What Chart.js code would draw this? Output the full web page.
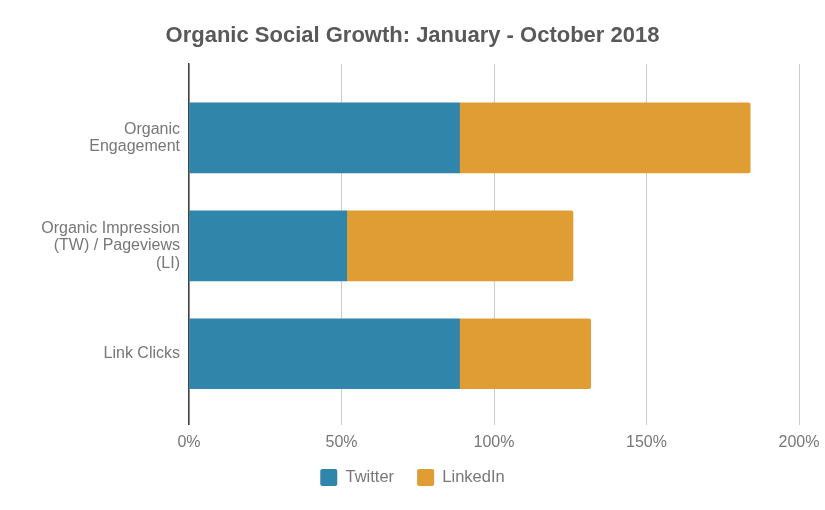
<!DOCTYPE html>
<html>
<head>
<meta charset="utf-8">
<script src="https://cdn.jsdelivr.net/npm/chart.js@4/dist/chart.umd.min.js"></script>
<style>
  body { margin: 0; background: #fff; }
  #wrap { width: 825px; height: 510px; }
</style>
</head>
<body>
<div id="wrap"><canvas id="chart" width="825" height="510"></canvas></div>
<script>
const categories = [['Organic', 'Engagement'], ['Organic Impression', '(TW) / Pageviews', '(LI)'], 'Link Clicks']
const twitter = [88.7, 51.7, 88.7]
const linkedin = [95.3, 74.2, 43.0]
const xTicks = [0, 50, 100, 150, 200]

const font = 'Arial, "Liberation Sans", sans-serif'

// legend: wide gaps between items but a short box
const legendSpacing = {
    id: 'legendSpacing',
    afterInit(c) {
        const fit = c.legend.fit
        const draw = c.legend.draw
        c.legend.fit = function () { fit.call(this); this.height -= 28 }
        c.legend.draw = function () {
            const top = this.top, bottom = this.bottom
            this.top -= 14
            this.bottom += 14
            draw.call(this)
            this.top = top
            this.bottom = bottom
        }
    }
}

const chart = new Chart('chart', {
    type: 'bar',
    data: {
        labels: categories,
        datasets: [
            { label: 'Twitter', data: twitter, backgroundColor: '#3086aa', borderWidth: 0, barThickness: 70 },
            { label: 'LinkedIn', data: linkedin, backgroundColor: '#e09d34', borderWidth: 0, borderRadius: 2, borderSkipped: 'start', barThickness: 70 }
        ]
    },
    options: {
        indexAxis: 'y',
        responsive: false,
        animation: false,
        layout: { padding: { top: 0, right: 22, bottom: 28, left: 22 } },
        scales: {
            x: {
                stacked: true,
                min: 0,
                max: 200,
                afterBuildTicks: axis => { axis.ticks = xTicks.map(v => ({ value: v })) },
                afterFit: axis => { axis.paddingRight = 26 },
                grid: { color: '#cccccc', lineWidth: 1, drawTicks: false },
                border: { display: false },
                ticks: { color: '#777', font: { family: font, size: 16 }, padding: 8, callback: v => v + '%' }
            },
            y: {
                stacked: true,
                grid: { display: false, drawTicks: false },
                border: { display: true, color: '#444', width: 1.5 },
                afterFit: axis => { axis.width = 167 },
                // leave some extra room above the first and below the last category
                afterBuildTicks: axis => { axis._startValue -= 0.185; axis._valueRange += 0.343 },
                ticks: { color: '#777', font: { family: font, size: 16, lineHeight: 1.08 }, padding: 9 }
            }
        },
        plugins: {
            title: {
                display: true,
                text: 'Organic Social Growth: January - October 2018',
                color: '#595959',
                font: { family: font, size: 22, weight: 'bold' },
                padding: { top: 23, bottom: 14.6 }
            },
            legend: {
                position: 'bottom',
                labels: {
                    color: '#777',
                    font: { family: font, size: 16.5 },
                    boxWidth: 17,
                    boxHeight: 17,
                    useBorderRadius: true,
                    borderRadius: 2,
                    padding: 23
                }
            },
            tooltip: { enabled: false }
        }
    },
    plugins: [legendSpacing]
})
</script>
</body>
</html>
